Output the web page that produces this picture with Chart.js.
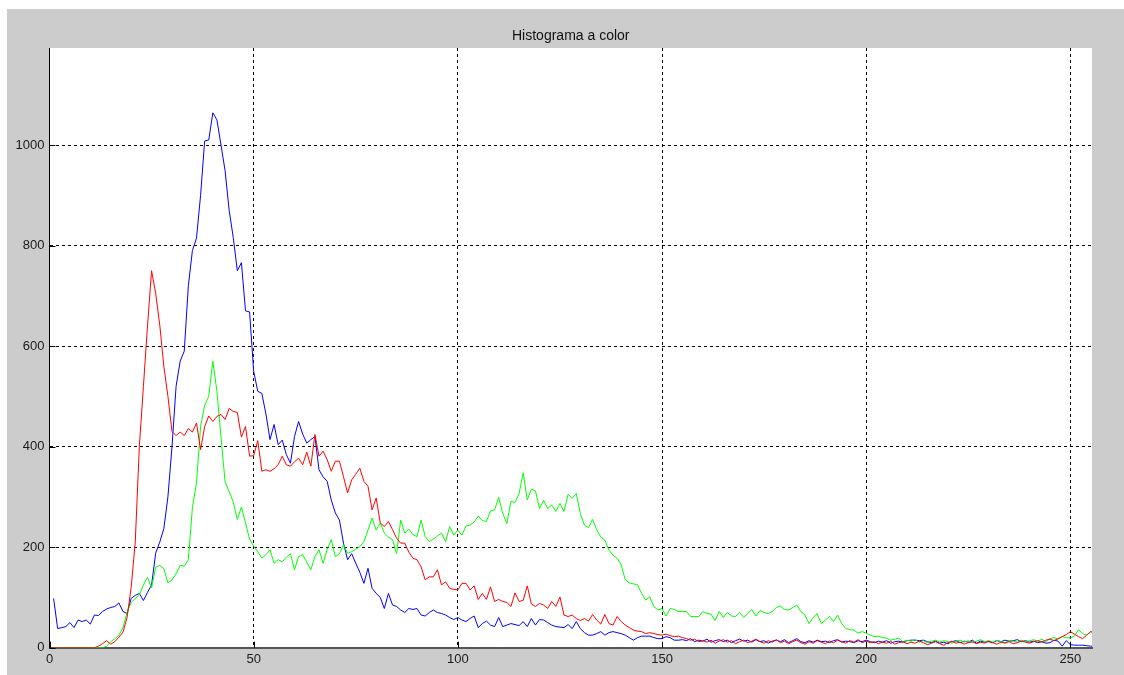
<!DOCTYPE html>
<html>
<head>
<meta charset="utf-8">
<script src="https://cdn.jsdelivr.net/npm/chart.js@4.4.1/dist/chart.umd.min.js"></script>
<style>
html,body{margin:0;padding:0;background:#ffffff;}
#wrap{position:absolute;left:0;top:0;width:1124px;height:675px;}
</style>
</head>
<body>
<div id="wrap"><canvas id="c" width="1124" height="675"></canvas></div>
<script>
const titleText = "Histograma a color";
const xTicks = [0, 50, 100, 150, 200, 250];
const yTicks = [0, 200, 400, 600, 800, 1000];
const xMax = 255.3;
const yMax = 1193;

const levels = Array.from({length: 256}, (_, i) => i + 1);

const redCounts = [
0,0,0,0,0,0,0,0,0,0,
0,3,8,14,7,12,21,31,60,120,
210,400,520,640,750,705,642,560,500,430,
422,429,422,436,429,447,394,440,461,450,
460,464,454,476,470,468,419,440,381,382,
412,351,354,351,356,364,381,364,361,370,
377,364,389,361,424,381,391,374,351,371,
371,340,308,334,345,357,331,321,274,298,
248,241,251,235,218,208,208,190,178,175,
161,135,141,141,155,125,131,118,116,115,
128,128,115,123,96,108,96,121,92,96,
92,90,82,109,92,94,123,87,82,88,
85,78,92,82,101,65,62,65,58,54,
58,53,66,55,47,66,48,45,62,52,
45,40,35,33,32,28,30,28,26,25,
27,24,22,23,20,18,15,17,12,14,
11,15,9,13,16,11,14,8,12,15,
10,13,17,12,9,14,11,16,10,13,
8,12,15,10,7,12,9,14,11,8,
13,10,15,12,9,14,11,16,10,13,
10,12,8,11,9,13,7,10,12,8,
11,9,13,10,6,9,12,8,5,10,
13,9,11,7,10,12,8,11,9,13,
10,7,11,9,12,8,10,13,11,9,
12,14,11,15,17,14,18,22,26,32,
27,22,18,25,32,28
];

const greenCounts = [
0,0,0,0,0,0,0,0,0,0,
0,0,0,3,12,18,25,40,70,90,
98,105,125,140,119,160,164,157,129,135,
147,164,162,175,279,328,440,482,500,570,
510,419,330,310,290,255,280,248,216,202,
191,178,185,195,168,175,171,180,187,155,
181,185,170,155,181,195,168,195,215,181,
187,205,188,191,196,201,211,234,258,234,
248,228,220,215,187,254,228,236,225,221,
254,221,211,216,222,228,211,241,224,234,
224,242,244,250,262,253,251,272,274,299,
267,247,291,289,307,348,294,315,312,277,
293,277,284,271,287,271,305,297,307,267,
244,239,255,235,220,214,194,184,178,165,
135,129,127,125,108,95,101,82,75,78,
63,78,76,72,72,72,62,62,62,72,
68,67,54,72,60,70,63,62,70,60,
68,76,63,74,70,68,72,80,83,76,
75,80,85,72,65,48,60,68,48,55,
62,52,65,48,38,36,35,29,32,29,
25,22,23,20,19,15,17,19,12,15,
13,16,11,14,10,13,15,11,14,12,
9,13,15,11,14,10,13,16,12,14,
11,15,12,10,14,13,11,15,12,14,
16,13,17,12,18,20,17,22,20,19,
24,36,28,25,32,30
];

const blueCounts = [
98,38,40,42,50,40,55,52,55,47,
65,64,72,77,80,82,89,72,68,98,
104,108,94,110,125,188,210,237,300,400,
520,570,590,720,790,815,900,1008,1010,1064,
1050,1000,949,870,816,750,766,670,668,550,
510,506,465,414,444,404,413,384,367,420,
450,425,407,414,420,354,340,331,294,268,
254,208,175,187,168,150,128,158,118,108,
100,78,108,85,82,75,70,78,76,78,
65,63,70,75,70,68,65,60,56,60,
55,52,58,63,40,48,53,45,42,60,
42,45,48,46,44,52,42,58,45,56,
55,50,45,42,41,40,46,38,52,38,
30,25,25,28,32,25,30,32,30,28,
25,20,15,20,23,23,23,20,18,18,
22,20,15,15,16,14,18,12,15,13,
17,11,14,16,12,15,10,14,17,13,
15,11,16,12,14,9,13,15,12,16,
10,14,18,12,10,14,11,15,12,13,
10,14,16,11,13,12,10,14,12,15,
12,10,13,11,14,9,12,13,11,14,
15,15,14,15,12,10,13,9,11,8,
12,14,10,13,11,15,9,13,11,12,
10,14,12,15,13,14,16,12,14,11,
13,10,12,9,10,15,13,3,14,6,
5,5,5,4,3,3
];

function toPoints(vals){ return vals.map((v, i) => ({x: levels[i], y: v})); }

const FONT = 'Liberation Sans, Arial, sans-serif';

const bgPlugin = {
  id: 'bg',
  beforeDraw(chart){
    const ctx = chart.ctx, a = chart.chartArea;
    ctx.save();
    ctx.fillStyle = '#ffffff';
    ctx.fillRect(0, 0, chart.width, chart.height);
    ctx.fillStyle = '#cccccc';
    ctx.fillRect(7, 9, chart.width - 7, chart.height - 9);
    ctx.fillStyle = '#ffffff';
    ctx.fillRect(a.left, a.top, a.right - a.left, a.bottom - a.top);
    ctx.fillStyle = '#111111';
    ctx.font = '14px ' + FONT;
    ctx.textAlign = 'center';
    ctx.textBaseline = 'alphabetic';
    ctx.fillText(titleText, (a.left + a.right) / 2, 39.5);
    ctx.restore();
  },
  afterDatasetsDraw(chart){
    const ctx = chart.ctx, a = chart.chartArea;
    const xs = chart.scales.x, ys = chart.scales.y;
    ctx.save();
    ctx.strokeStyle = '#000000';
    ctx.lineWidth = 1;
    ctx.beginPath();
    xTicks.forEach(t => {
      const px = Math.round(xs.getPixelForValue(t)) + 0.5;
      ctx.moveTo(px, a.bottom); ctx.lineTo(px, a.bottom - 6);
    });
    yTicks.forEach(t => {
      const py = Math.round(ys.getPixelForValue(t)) + 0.5;
      ctx.moveTo(a.left, py); ctx.lineTo(a.left + 6, py);
    });
    ctx.stroke();
    ctx.restore();
  }
};

new Chart(document.getElementById('c'), {
  type: 'line',
  data: {
    datasets: [
      {label: 'R', data: toPoints(redCounts), borderColor: '#ff0000', borderWidth: 1, pointRadius: 0, tension: 0, fill: false},
      {label: 'G', data: toPoints(greenCounts), borderColor: '#00ff00', borderWidth: 1, pointRadius: 0, tension: 0, fill: false},
      {label: 'B', data: toPoints(blueCounts), borderColor: '#0000ff', borderWidth: 1, pointRadius: 0, tension: 0, fill: false}
    ]
  },
  options: {
    responsive: false,
    animation: false,
    devicePixelRatio: 1,
    layout: {padding: {left: 0, right: 32, top: 48, bottom: 0}},
    plugins: {
      legend: {display: false},
      tooltip: {enabled: false},
      title: {display: false}
    },
    scales: {
      x: {
        type: 'linear',
        min: 0,
        max: xMax,
        afterFit(s){ s.height = 27.3; },
        afterBuildTicks(s){ s.ticks = xTicks.map(v => ({value: v})); },
        ticks: {
          color: '#1a1a1a',
          font: {family: FONT, size: 13},
          padding: 4,
          maxRotation: 0,
          autoSkip: false,
          callback: v => String(v)
        },
        grid: {color: '#000000', lineWidth: 1, drawTicks: false},
        border: {display: true, color: '#555555', width: 2, dash: [3, 3]}
      },
      y: {
        type: 'linear',
        min: 0,
        max: yMax,
        afterFit(s){ s.width = 49.5; },
        afterBuildTicks(s){ s.ticks = yTicks.map(v => ({value: v})); },
        ticks: {
          color: '#1a1a1a',
          font: {family: FONT, size: 13},
          padding: 5,
          autoSkip: false,
          callback: v => String(v)
        },
        grid: {color: '#000000', lineWidth: 1, drawTicks: false},
        border: {display: true, color: '#000000', width: 1, dash: [3, 3]}
      }
    }
  },
  plugins: [bgPlugin]
});
</script>
</body>
</html>
